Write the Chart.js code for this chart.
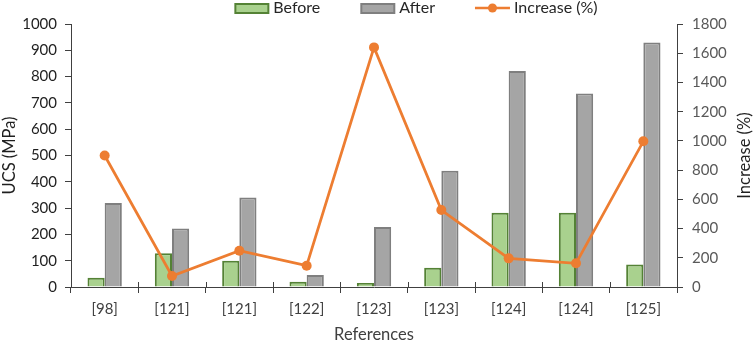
<!DOCTYPE html>
<html>
<head>
<meta charset="utf-8">
<script src="https://cdn.jsdelivr.net/npm/chart.js@4.4.1/dist/chart.umd.min.js"></script>
<style>
  html, body { margin: 0; padding: 0; background: #ffffff; }
  #wrap { width: 754px; height: 342px; position: relative; }
</style>
</head>
<body>
<div id="wrap"><canvas id="chart" width="754" height="342"></canvas></div>
<script>
// ---- Data ----
const categories = ['[98]', '[121]', '[121]', '[122]', '[123]', '[123]', '[124]', '[124]', '[125]'];
const beforeUCS  = [35, 128, 100, 20, 15, 73, 282, 282, 86];
const afterUCS   = [319, 222, 340, 46, 228, 442, 821, 736, 930];
const increasePct = [900, 75, 248, 146, 1640, 527, 196, 162, 997];
const leftTicks  = [0, 100, 200, 300, 400, 500, 600, 700, 800, 900, 1000];
const rightTicks = [0, 200, 400, 600, 800, 1000, 1200, 1400, 1600, 1800];
const seriesLabels = ['Before', 'After', 'Increase (%)'];
const rightTitle = 'Increase (%)';

const FONT = 'Lato, "Open Sans", "DejaVu Sans", sans-serif';
const COL_BEFORE_FILL = '#a9d18e', COL_BEFORE_LINE = '#548235';
const COL_AFTER_FILL = '#a5a5a5', COL_AFTER_LINE = '#7f7f7f';
const COL_LINE = '#ed7d31';
const AXIS_COL = '#404040';

// Custom legend (Excel-like: box markers and line-with-dot marker)
const excelLegend = {
  id: 'excelLegend',
  afterDraw(chart) {
    const ctx = chart.ctx;
    ctx.save();
    ctx.font = '16px ' + FONT;
    ctx.textBaseline = 'middle';
    ctx.textAlign = 'left';
    const y = 8;
    const markerW = 35, textGap = 4, itemGap = 40;
    const widths = seriesLabels.map(t => markerW + textGap + ctx.measureText(t).width);
    const total = widths.reduce((a, b) => a + b, 0) + itemGap * (widths.length - 1);
    let x = 416 - total / 2;
    seriesLabels.forEach((label, i) => {
      if (i < 2) {
        ctx.fillStyle = i === 0 ? COL_BEFORE_FILL : COL_AFTER_FILL;
        ctx.strokeStyle = i === 0 ? COL_BEFORE_LINE : COL_AFTER_LINE;
        ctx.lineWidth = 2;
        ctx.fillRect(x + 1, y - 4, markerW - 2, 9);
        ctx.strokeRect(x + 1, y - 4, markerW - 2, 9);
      } else {
        ctx.strokeStyle = COL_LINE;
        ctx.lineWidth = 2.5;
        ctx.beginPath();
        ctx.moveTo(x, y); ctx.lineTo(x + markerW, y);
        ctx.stroke();
        ctx.fillStyle = COL_LINE;
        ctx.beginPath();
        ctx.arc(x + markerW / 2, y, 4.5, 0, Math.PI * 2);
        ctx.fill();
      }
      ctx.fillStyle = '#262626';
      ctx.fillText(label, x + markerW + textGap, y);
      x += widths[i] + itemGap;
    });
    ctx.restore();
  }
};

// Inward tick marks on the category axis + right-axis title reading bottom-to-top
const axisExtras = {
  id: 'axisExtras',
  afterDraw(chart) {
    const xs = chart.scales.x;
    const ctx = chart.ctx;
    const n = categories.length;
    const step = (xs.getPixelForValue(1) - xs.getPixelForValue(0));
    ctx.save();
    ctx.strokeStyle = AXIS_COL;
    ctx.lineWidth = 1;
    for (let i = 1; i < n; i++) {
      const px = Math.round(xs.getPixelForValue(i) - step / 2) + 0.5;
      ctx.beginPath();
      ctx.moveTo(px, xs.top);
      ctx.lineTo(px, xs.top - 5);
      ctx.stroke();
    }
    // right axis title
    const r = chart.scales.y1;
    ctx.translate(r.right - 9, (r.top + r.bottom) / 2);
    ctx.rotate(-Math.PI / 2);
    ctx.font = '16.5px ' + FONT;
    ctx.fillStyle = '#1f1f1f';
    ctx.textAlign = 'center';
    ctx.textBaseline = 'middle';
    ctx.fillText(rightTitle, 0, 0);
    ctx.restore();
  }
};

const plainNum = v => String(v);

new Chart(document.getElementById('chart'), {
  data: {
    labels: categories,
    datasets: [
      {
        type: 'line', label: seriesLabels[2], data: increasePct, yAxisID: 'y1', order: 0,
        borderColor: COL_LINE, backgroundColor: COL_LINE, borderWidth: 2.75,
        pointRadius: 5, pointHoverRadius: 5, pointBackgroundColor: COL_LINE, pointBorderWidth: 0,
        tension: 0
      },
      {
        type: 'bar', label: seriesLabels[0], data: beforeUCS, yAxisID: 'y', order: 1,
        backgroundColor: COL_BEFORE_FILL, borderColor: COL_BEFORE_LINE, borderWidth: 2,
        categoryPercentage: 0.51, barPercentage: 1.0
      },
      {
        type: 'bar', label: seriesLabels[1], data: afterUCS, yAxisID: 'y', order: 1,
        backgroundColor: COL_AFTER_FILL, borderColor: COL_AFTER_LINE, borderWidth: 2,
        categoryPercentage: 0.51, barPercentage: 1.0
      }
    ]
  },
  options: {
    responsive: false,
    animation: false,
    layout: { padding: { top: 24, left: 0, right: 0, bottom: 0 } },
    plugins: {
      legend: { display: false },
      tooltip: { enabled: false }
    },
    scales: {
      x: {
        type: 'category',
        grid: { display: true, drawOnChartArea: false, offset: true, tickLength: 6, color: AXIS_COL },
        border: { display: true, color: AXIS_COL, width: 1 },
        ticks: { color: AXIS_COL, font: { family: FONT, size: 15 }, padding: 7, maxRotation: 0 },
        title: { display: true, text: 'References', color: AXIS_COL, font: { family: FONT, size: 16.5 }, padding: { top: 5, bottom: -3 } },
        afterFit: s => { s.height = 55; }
      },
      y: {
        position: 'left', min: 0, max: 1000,
        afterBuildTicks: s => { s.ticks = leftTicks.map(v => ({ value: v })); },
        grid: { display: true, drawOnChartArea: false, tickLength: 6, color: AXIS_COL },
        border: { display: true, color: AXIS_COL, width: 1 },
        ticks: { color: '#1f1f1f', font: { family: FONT, size: 15 }, padding: 8, callback: plainNum },
        title: { display: true, text: 'UCS (MPa)', color: '#1f1f1f', font: { family: FONT, size: 16.5 }, padding: { top: 0, bottom: 0 } },
        afterFit: s => { s.width = 71; }
      },
      y1: {
        position: 'right', min: 0, max: 1800,
        afterBuildTicks: s => { s.ticks = rightTicks.map(v => ({ value: v })); },
        grid: { display: true, drawOnChartArea: false, tickLength: 6, color: AXIS_COL },
        border: { display: true, color: AXIS_COL, width: 1 },
        ticks: { color: '#595959', font: { family: FONT, size: 15 }, padding: 9, callback: plainNum },
        title: { display: false, text: rightTitle },
        afterFit: s => { s.width = 77; }
      }
    }
  },
  plugins: [excelLegend, axisExtras]
});
</script>
</body>
</html>
